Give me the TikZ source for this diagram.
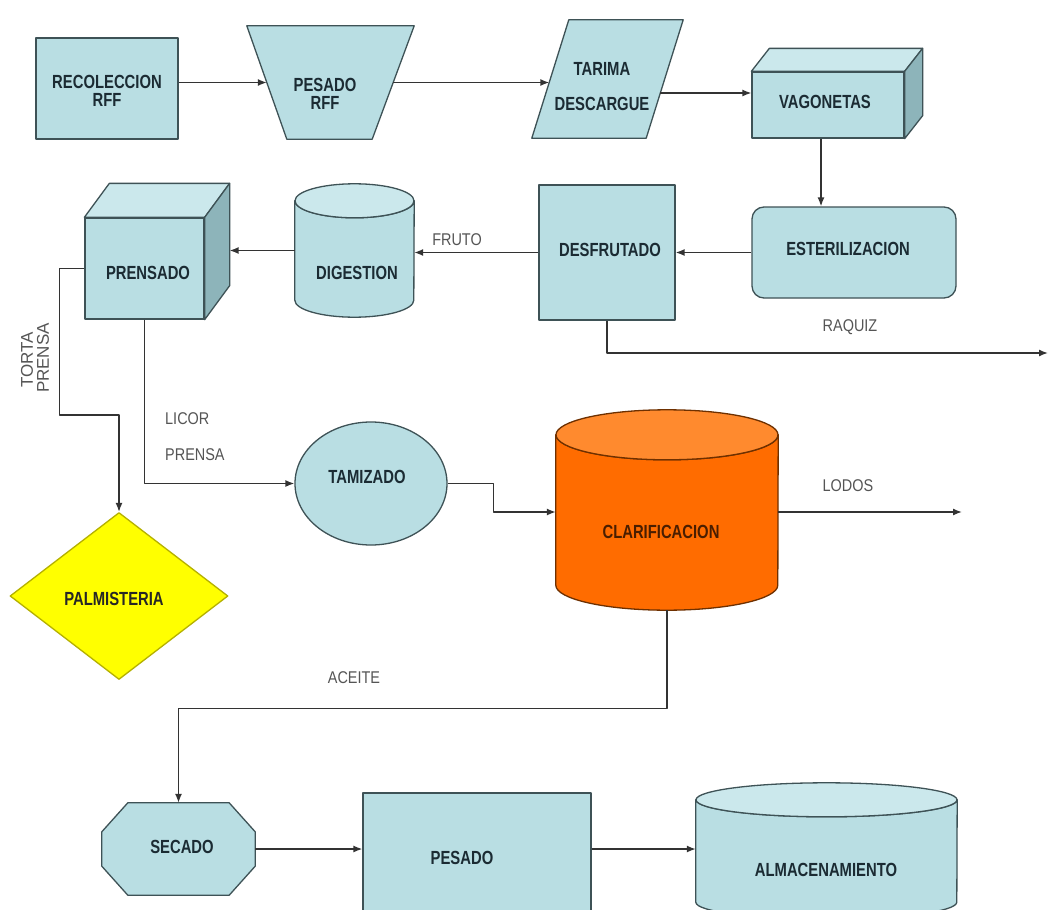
\documentclass[tikz,border=0pt]{standalone}
\usepackage{fontspec}
\setmainfont{Liberation Sans}
\newfontfamily\nfont[FakeStretch=0.85]{Liberation Sans}
\newfontfamily\bfont[FakeStretch=0.78]{Liberation Sans}
\usetikzlibrary{arrows.meta,shapes.geometric,calc}
\definecolor{boxfill}{HTML}{B9DEE3}
\definecolor{boxtop}{HTML}{CBE8EC}
\definecolor{boxside}{HTML}{8DB4BA}
\definecolor{boxline}{HTML}{3E5256}
\definecolor{txt}{HTML}{1B2B33}
\definecolor{lab}{HTML}{555555}
\definecolor{lin}{HTML}{333333}
\definecolor{orbody}{HTML}{FF6C00}
\definecolor{ortop}{HTML}{FF8A2E}
\definecolor{orline}{HTML}{6E3000}
\definecolor{ortxt}{HTML}{4A1E00}
\definecolor{yel}{HTML}{FFFF00}
\definecolor{yelline}{HTML}{B5B000}
\begin{document}
\begin{tikzpicture}[x=1pt,y=-1pt,line join=round,
 shp/.style={draw=boxline, fill=boxfill, line width=1.3pt, inner sep=0pt},
 body/.style={inner sep=0pt, draw=none},
 tx/.style={font=\bfont\bfseries\fontsize{19}{18}\selectfont, text=txt, align=center, inner sep=0pt},
 lb/.style={font=\nfont\fontsize{17}{20}\selectfont, text=lab, inner sep=0pt},
 rl/.style={font=\fontsize{17}{18}\selectfont, text=lab, inner sep=0pt, rotate=90},
 arr/.style={draw=lin, line width=1.4pt, -{Latex[length=9pt,width=7pt]}}]
\useasboundingbox (0,0) rectangle (1053,910);
\clip (0,0) rectangle (1053,910);
\fill[white] (0,0) rectangle (1053,910);

% ---- shapes ----
\node[shp, rectangle, minimum width=142, minimum height=101] (rec) at (107,88.5) {};

\node[body, minimum width=167, minimum height=113] (pes1) at (330.5,82.5) {};
\draw[shp] (pes1.north west) -- (pes1.north east) -- ([xshift=-42]pes1.south east) -- ([xshift=40]pes1.south west) -- cycle;
\coordinate (pes1L) at ([xshift=20]pes1.west);
\coordinate (pes1R) at ([xshift=-21]pes1.east);

\node[body, minimum width=151, minimum height=118] (tar) at (607.5,79) {};
\draw[shp] ([xshift=37]tar.north west) -- (tar.north east) -- ([xshift=-37]tar.south east) -- (tar.south west) -- cycle;
\coordinate (tarL) at ([xshift=17.5]tar.west);
\coordinate (tarR) at ([shift={(-23,14)}]tar.east);

\node[shp, minimum width=152, minimum height=66] (vag) at (828,105) {};
\draw[shp, fill=boxtop] (vag.north west) -- ++(18,-23) -- ([shift={(18,-23)}]vag.north east) -- (vag.north east) -- cycle;
\draw[shp, fill=boxside] (vag.north east) -- ++(18,-23) -- ([shift={(18,-23)}]vag.south east) -- (vag.south east) -- cycle;

\node[shp, rounded corners=12pt, minimum width=204, minimum height=91] (est) at (854,252.5) {};
\node[shp, minimum width=136, minimum height=135] (desf) at (607,252.5) {};

\node[body, minimum width=119, minimum height=99] (dig) at (354.5,250.5) {};
\draw[shp] (dig.north west) -- (dig.south west) arc[start angle=180, end angle=0, x radius=59.5, y radius=17] -- (dig.north east) arc[start angle=0, end angle=180, x radius=59.5, y radius=17] -- cycle;
\draw[shp, fill=boxtop] (dig.north) ellipse[x radius=59.5, y radius=17];

\node[shp, minimum width=119, minimum height=101] (pren) at (144.5,268.5) {};
\draw[shp, fill=boxtop] (pren.north west) -- ++(25,-34) -- ([shift={(25,-34)}]pren.north east) -- (pren.north east) -- cycle;
\draw[shp, fill=boxside] (pren.north east) -- ++(25,-34) -- ([shift={(25,-34)}]pren.south east) -- (pren.south east) -- cycle;
\coordinate (prenR) at ([xshift=25]pren.east);

\node[draw=yelline, fill=yel, line width=1.3pt, diamond, inner sep=0pt, minimum width=218, minimum height=167] (palm) at (119,596) {};
\node[shp, ellipse, minimum width=152, minimum height=123] (tam) at (371,483.5) {};

\node[body, minimum width=222, minimum height=150] (clar) at (667,510) {};
\draw[draw=orline, fill=orbody, line width=1.3pt] (clar.north west) -- (clar.south west) arc[start angle=180, end angle=0, x radius=111, y radius=25] -- (clar.north east) arc[start angle=0, end angle=180, x radius=111, y radius=25] -- cycle;
\draw[draw=orline, fill=ortop, line width=1.3pt] (clar.north) ellipse[x radius=111, y radius=25];

\node[body, minimum width=153, minimum height=92] (sec) at (178.5,849) {};
\draw[shp] ([xshift=26]sec.north west) -- ([xshift=-26]sec.north east) -- ([shift={(0,29)}]sec.north east) -- ([shift={(0,-29)}]sec.south east) -- ([xshift=-26]sec.south east) -- ([xshift=26]sec.south west) -- ([shift={(0,-29)}]sec.south west) -- ([shift={(0,29)}]sec.north west) -- cycle;

\node[shp, minimum width=228, minimum height=140] (pes2) at (477,863) {};

\node[body, minimum width=261, minimum height=102] (alm) at (826.5,851) {};
\draw[shp] (alm.north west) -- (alm.south west) arc[start angle=180, end angle=0, x radius=130.5, y radius=17] -- (alm.north east) arc[start angle=0, end angle=180, x radius=130.5, y radius=17] -- cycle;
\draw[shp, fill=boxtop] (alm.north) ellipse[x radius=130.5, y radius=17];

% ---- texts ----
\node[tx] (t1) at (107,91) {RECOLECCION\\RFF};
\node[tx] (t2) at (325,93.5) {PESADO\\RFF};
\node[tx] (t3) at (602,86.5) {TARIMA\\[17pt]DESCARGUE};
\node[tx] (t4) at (825,102) {VAGONETAS};
\node[tx] (t5) at (848,249) {ESTERILIZACION};
\node[tx] (t6) at (610,250) {DESFRUTADO};
\node[tx] (t7) at (357,273) {DIGESTION};
\node[tx] (t8) at (148,273) {PRENSADO};
\node[tx] (t9) at (367,477) {TAMIZADO};
\node[tx, text=ortxt] (t10) at (661,532) {CLARIFICACION};
\node[tx, text=black!85] (t11) at (114,599) {PALMISTERIA};
\node[tx] (t12) at (182,847) {SECADO};
\node[tx] (t13) at (462,858) {PESADO};
\node[tx] (t14) at (826,870) {ALMACENAMIENTO};

\node[lb] (l1) at (457,240) {FRUTO};
\node[lb] (l2) at (850,327) {RAQUIZ};
\node[lb] (l3) at (848,486) {LODOS};
\node[lb] (l4) at (354,678) {ACEITE};
\node[lb, anchor=west] (l5) at (165,419) {LICOR};
\node[lb, anchor=west] (l6) at (165,455) {PRENSA};
\node[rl] (l7) at (27,360) {TORTA};
\node[rl] (l8) at (43,358) {PRENSA};

% ---- connectors ----
\coordinate (raq) at (1048,353);
\coordinate (lod) at (962,512);
\draw[arr] (rec.east |- pes1L) -- (pes1L);
\draw[arr] (pes1R) -- (pes1R -| tarL);
\draw[arr] (tarR) -- (tarR -| vag.west);
\draw[arr] ([xshift=-7]vag.south) -- ([xshift=-7]vag.south |- est.north);
\draw[arr] (est.west) -- (desf.east);
\draw[arr] (desf.south) |- (raq);
\draw[arr] (desf.west) -- (desf.west -| dig.east);
\draw[arr] (dig.west) -- (dig.west -| prenR);
\draw[arr] (pren.west) -- ++(-25,0) |- ($(palm.north)+(0,-97)$) -- (palm.north);
\draw[arr] (pren.south) |- (tam.west);
\draw[arr] (tam.east) -- ++(46,0) |- ([yshift=-2]clar.west);
\draw[arr] ([yshift=-2]clar.east) -- (lod);
\draw[arr] ([yshift=-25]clar.south) -- ++(0,98) -| (sec.north);
\draw[arr] (sec.east) -- (sec.east -| pes2.west);
\draw[arr] (sec.east -| pes2.east) -- (sec.east -| alm.west);
\end{tikzpicture}
\end{document}
